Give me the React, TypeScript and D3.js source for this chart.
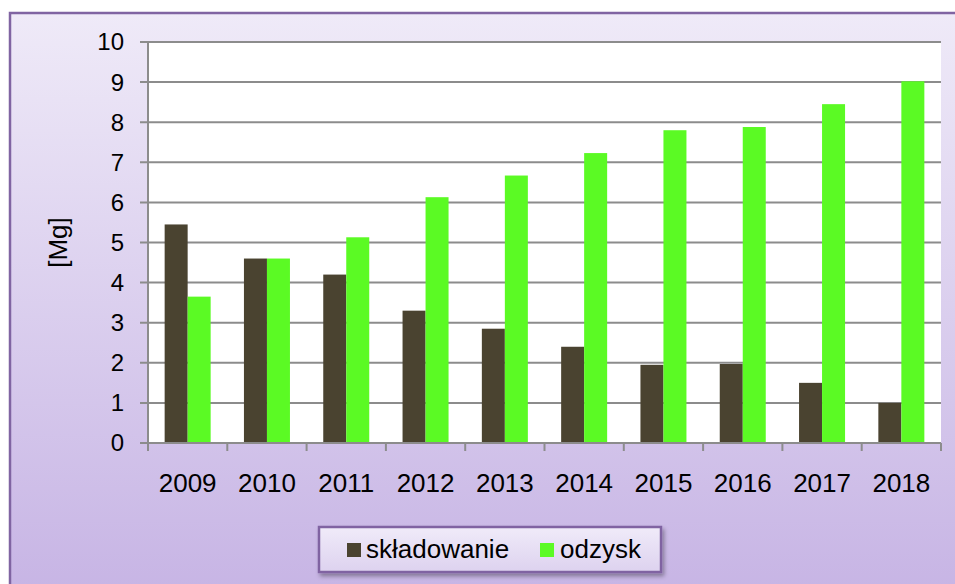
import React from "react";
import * as d3 from "d3";

const years = ["2009", "2010", "2011", "2012", "2013", "2014", "2015", "2016", "2017", "2018"];
const skladowanie = [5.45, 4.6, 4.2, 3.3, 2.85, 2.4, 1.95, 1.97, 1.5, 1.0];
const odzysk = [3.65, 4.6, 5.13, 6.13, 6.67, 7.23, 7.8, 7.88, 8.45, 9.02];
const yTicks = [0, 1, 2, 3, 4, 5, 6, 7, 8, 9, 10];
const seriesNames = ["składowanie", "odzysk"];
const seriesColors = ["#4a4330", "#5bfa24"];

export default function App() {
  const W = 955, H = 584;
  const plot = { left: 148, right: 941, top: 42, bottom: 443 };
  const x = d3.scaleBand<string>().domain(years).range([plot.left, plot.right]).paddingInner(0).paddingOuter(0);
  const y = d3.scaleLinear().domain([0, 10]).range([plot.bottom, plot.top]);
  const bw = 23;
  const font = "'Liberation Sans', Arial, sans-serif";
  const series = [skladowanie, odzysk];

  return (
    <svg width={W} height={H} style={{ position: "absolute", left: 0, top: 0 }}>
      <defs>
        <linearGradient id="bg" x1="0" y1="0" x2="0" y2="1">
          <stop offset="0" stopColor="#efeaf8" />
          <stop offset="1" stopColor="#c6b3e4" />
        </linearGradient>
        <linearGradient id="lg" x1="0" y1="0" x2="0" y2="1">
          <stop offset="0" stopColor="#f0ebf9" />
          <stop offset="1" stopColor="#ddd2ef" />
        </linearGradient>
        <filter id="sh" x="-10%" y="-30%" width="130%" height="180%">
          <feDropShadow dx="2" dy="3" stdDeviation="2" floodColor="#000" floodOpacity="0.35" />
        </filter>
      </defs>
      <rect x={0} y={0} width={W} height={H} fill="#ffffff" />
      <rect x={10} y={13} width={W + 10} height={H + 10} fill="url(#bg)" stroke="#8064a2" strokeWidth={2.5} />
      <rect x={plot.left} y={plot.top} width={plot.right - plot.left} height={plot.bottom - plot.top} fill="#ffffff" />
      {yTicks.map((t) => (
        <g key={t}>
          <line x1={plot.left - 8} x2={plot.right} y1={y(t)} y2={y(t)} stroke="#8c8c8c" strokeWidth={2} />
          <text x={124} y={y(t)} dy="0.35em" textAnchor="end" fontFamily={font} fontSize={24} fill="#000">{t}</text>
        </g>
      ))}
      <line x1={plot.left} x2={plot.left} y1={plot.top} y2={plot.bottom} stroke="#8c8c8c" strokeWidth={2} />
      {years.map((yr, i) => (
        <g key={yr}>
          {series.map((s, j) => (
            <rect key={j}
              x={(x(yr) as number) + x.bandwidth() / 2 - bw + j * bw}
              y={y(s[i])}
              width={bw}
              height={y(0) - y(s[i])}
              fill={seriesColors[j]} />
          ))}
        </g>
      ))}
      <line x1={plot.left} x2={plot.right} y1={plot.bottom} y2={plot.bottom} stroke="#8c8c8c" strokeWidth={2} />
      {[...years.map((yr) => x(yr) as number), plot.right].map((v, i) => (
        <line key={i} x1={v} x2={v} y1={plot.bottom} y2={plot.bottom + 8} stroke="#8c8c8c" strokeWidth={2} />
      ))}
      {years.map((yr) => (
        <text key={yr} x={(x(yr) as number) + x.bandwidth() / 2} y={492} textAnchor="middle" fontFamily={font} fontSize={26} fill="#000">{yr}</text>
      ))}
      <text transform={`translate(67,${(plot.top + plot.bottom) / 2}) rotate(-90)`} textAnchor="middle" fontFamily={font} fontSize={26} fill="#000">[Mg]</text>
      <rect x={319} y={527} width={342} height={45} fill="url(#lg)" stroke="#8064a2" strokeWidth={2.5} filter="url(#sh)" />
      {seriesNames.map((n, j) => (
        <g key={n}>
          <rect x={[347, 540][j]} y={543} width={14} height={14} fill={seriesColors[j]} />
          <text x={[366, 560][j]} y={558} fontFamily={font} fontSize={26} fill="#000">{n}</text>
        </g>
      ))}
    </svg>
  );
}
